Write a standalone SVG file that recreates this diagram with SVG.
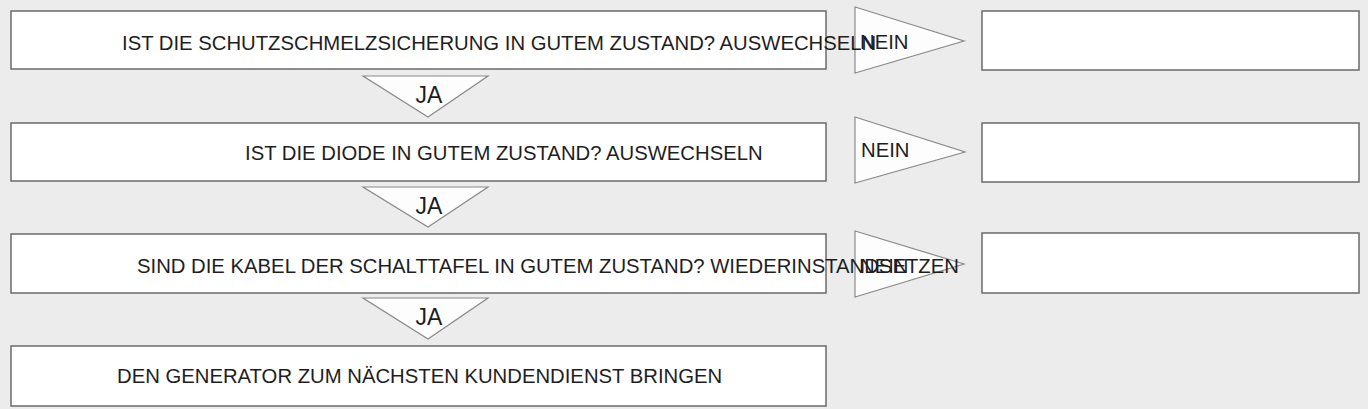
<svg xmlns="http://www.w3.org/2000/svg" width="1368" height="409" viewBox="0 0 1368 409">
<style>
.bg{fill:#ececec}
.box{fill:#ffffff;stroke:#6a6a6a;stroke-width:1.5}
.tri{fill:#fdfdfd;stroke:#8a8a8a;stroke-width:1.2}
.t{font-family:"Liberation Sans",Arial,Helvetica,sans-serif;font-size:20.3px;fill:#1e1e1e}
.ja{font-family:"Liberation Sans",Arial,Helvetica,sans-serif;font-size:23px;fill:#1e1e1e;text-anchor:middle}
</style>
<rect class="bg" x="0" y="0" width="1368" height="409"/>
<g id="connectors">
  <polygon class="tri" points="363,76 488,76 428,117"/>
  <text class="ja" x="429" y="103">JA</text>
  <polygon class="tri" points="363,187 488,187 428,227"/>
  <text class="ja" x="429" y="214">JA</text>
  <polygon class="tri" points="363,298 488,298 428,339"/>
  <text class="ja" x="429" y="325">JA</text>
  <polygon class="tri" points="855,7 855,73 964,41"/>
  <polygon class="tri" points="855,117 855,183 965,152"/>
  <polygon class="tri" points="855,231 855,297 964,264"/>
</g>
<g id="node1">
  <rect class="box" x="11" y="11" width="815" height="58"/>
  <text class="t" x="122" y="50">IST DIE SCHUTZSCHMELZSICHERUNG IN GUTEM ZUSTAND? AUSWECHSELN</text>
</g>
<g id="node2">
  <rect class="box" x="11" y="123" width="815" height="58"/>
  <text class="t" x="245" y="160">IST DIE DIODE IN GUTEM ZUSTAND? AUSWECHSELN</text>
</g>
<g id="node3">
  <rect class="box" x="11" y="234" width="815" height="59"/>
  <text class="t" x="137" y="273">SIND DIE KABEL DER SCHALTTAFEL IN GUTEM ZUSTAND? WIEDERINSTANDSETZEN</text>
</g>
<g id="node4">
  <rect class="box" x="11" y="346" width="815" height="60"/>
  <text class="t" x="117" y="383">DEN GENERATOR ZUM NÄCHSTEN KUNDENDIENST BRINGEN</text>
</g>
<g id="nein-labels">
  <text class="t" x="860" y="49">NEIN</text>
  <text class="t" x="861" y="157">NEIN</text>
  <text class="t" x="860" y="273">NEIN</text>
</g>
<g id="node5"><rect class="box" x="982" y="11" width="377" height="59"/></g>
<g id="node6"><rect class="box" x="982" y="123" width="377" height="59"/></g>
<g id="node7"><rect class="box" x="982" y="233" width="377" height="60"/></g>
</svg>
